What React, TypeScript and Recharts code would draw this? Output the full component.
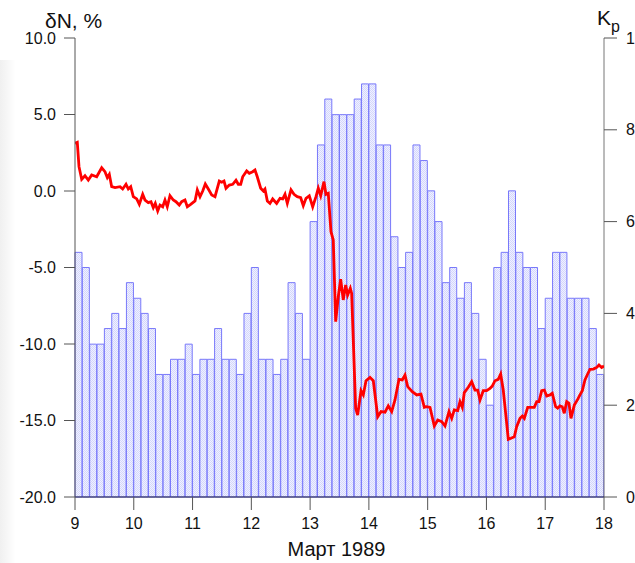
import React from "react";
import { BarChart, Bar, LineChart, Line, XAxis, YAxis } from "recharts";

// Kp index, 3-hour intervals, 9–17 March 1989 (8 per day)
const kpValues = [
  5.33, 5.0, 3.33, 3.33, 3.67, 4.0, 3.67, 4.67,
  4.33, 4.0, 3.67, 2.67, 2.67, 3.0, 3.0, 3.33,
  2.67, 3.0, 3.0, 3.67, 3.0, 3.0, 2.67, 4.0,
  5.0, 3.0, 3.0, 2.67, 3.0, 4.67, 4.0, 3.0,
  6.0, 7.67, 8.67, 8.33, 8.33, 8.33, 8.67, 9.0,
  9.0, 7.67, 7.67, 5.67, 5.0, 5.33, 7.67, 7.33,
  6.67, 6.0, 4.67, 5.0, 4.33, 4.67, 4.0, 3.0,
  2.0, 5.0, 5.33, 6.67, 5.33, 5.0, 5.0, 3.67,
  4.33, 5.33, 5.33, 4.33, 4.33, 4.33, 3.67, 2.67,
];

// Neutron monitor variation δN (%) — time in days of March
const nmTime = [
  9.0, 9.039, 9.068, 9.114, 9.17, 9.226, 9.284, 9.369, 9.454, 9.51, 9.55, 9.584, 9.624, 9.681, 9.766, 9.811, 9.868, 9.907, 9.948, 9.992,
  10.05, 10.094, 10.152, 10.191, 10.247, 10.293, 10.332, 10.366, 10.407, 10.446, 10.492, 10.531, 10.57, 10.616, 10.672, 10.718, 10.774, 10.815, 10.871, 10.911, 10.968,
  11.042, 11.081, 11.127, 11.173, 11.217, 11.268, 11.326, 11.382, 11.455, 11.496, 11.535, 11.569, 11.625, 11.683, 11.739, 11.778, 11.819, 11.853, 11.921, 11.965,
  12.023, 12.062, 12.101, 12.159, 12.203, 12.232, 12.272, 12.317, 12.363, 12.431, 12.488, 12.534, 12.573, 12.612, 12.675, 12.726, 12.782, 12.84, 12.884, 12.93, 12.986,
  13.044, 13.1, 13.139, 13.18, 13.236, 13.27, 13.309, 13.355, 13.394, 13.435, 13.479, 13.52, 13.564, 13.605, 13.639, 13.684, 13.707, 13.775, 13.809, 13.866, 13.905, 13.951,
  14.019, 14.075, 14.15, 14.206, 14.274, 14.33, 14.388, 14.444, 14.512, 14.568, 14.614, 14.66, 14.738, 14.813, 14.886, 14.943, 14.983,
  15.04, 15.113, 15.171, 15.239, 15.295, 15.363, 15.409, 15.453, 15.511, 15.55, 15.589, 15.623, 15.691, 15.749, 15.805, 15.851, 15.89, 15.946,
  16.004, 16.06, 16.099, 16.145, 16.201, 16.242, 16.286, 16.327, 16.372, 16.417, 16.474, 16.514, 16.571, 16.61, 16.644, 16.702, 16.77, 16.814, 16.855, 16.894, 16.94, 16.984,
  17.025, 17.081, 17.12, 17.178, 17.212, 17.251, 17.29, 17.324, 17.365, 17.404, 17.438, 17.495, 17.552, 17.591, 17.631, 17.676, 17.722, 17.761, 17.818, 17.876, 17.915, 17.96, 18.0,
];
const nmDelta = [
  3.12, 3.18, 1.59, 0.76, 1.0, 0.72, 1.05, 0.93, 1.52, 1.26, 0.87, 1.09, 0.28, 0.22, 0.28, 0.13, 0.44, 0.13, 0.28, -0.37,
  -0.52, -0.87, -0.22, -0.59, -0.76, -0.7, -1.09, -0.81, -1.31, -0.92, -1.03, -0.59, -1.03, -0.31, -0.59, -0.7, -0.92, -0.7, -0.59, -1.03, -0.87,
  -0.65, 0.07, -0.37, 0.0, 0.46, 0.13, -0.26, -0.37, 0.65, 0.57, 0.65, 0.18, 0.39, 0.44, 0.7, 0.44, 0.44, 0.93, 1.31, 1.16,
  1.26, 1.37, 0.93, 0.18, 0.0, 0.13, -0.65, -0.81, -0.52, -0.81, -0.48, -0.52, -0.22, -0.81, 0.07, -0.22, -0.37, -0.44, -0.96, -0.48, -0.31,
  -1.03, -0.37, 0.18, -0.31, 0.61, -0.22, -0.15, -2.66, -3.2, -8.54, -6.91, -5.77, -7.12, -6.14, -6.8, -6.36, -6.69, -14.2, -14.64, -13.05, -13.33, -12.4,
  -12.18, -12.4, -14.75, -14.42, -14.46, -14.05, -14.42, -13.66, -12.31, -12.35, -12.03, -12.79, -13.12, -13.33, -13.27, -14.14, -14.1,
  -14.14, -15.36, -14.97, -15.08, -15.36, -14.42, -14.86, -14.31, -14.35, -13.77, -14.14, -13.18, -12.83, -12.46, -13.01, -13.01, -13.66, -13.05,
  -13.05, -12.9, -12.75, -12.4, -12.31, -11.96, -13.01, -14.53, -16.23, -16.16, -16.06, -15.41, -14.86, -14.71, -14.86, -14.14, -14.14, -14.14, -13.77, -13.77, -13.05, -13.01,
  -13.4, -13.33, -13.22, -14.1, -14.2, -14.05, -14.1, -14.53, -13.77, -13.88, -14.86, -13.99, -13.62, -13.33, -13.05, -12.35, -11.96, -11.66, -11.64, -11.53, -11.37, -11.53, -11.44,
];

const dayTicks = [9, 10, 11, 12, 13, 14, 15, 16, 17, 18];
const dnMajorTicks = [-20, -15, -10, -5, 0, 5, 10];
const dnMinorTicks = Array.from({ length: 31 }, (_, i) => i - 20);
const kpMajorTicks = [0, 2, 4, 6, 8, 10];
const kpMinorTicks = [1, 3, 5, 7, 9];

const kpData = kpValues.map((kp, i) => ({ slot: i, kp }));
const nmData = nmTime.map((t, i) => ({ t, dn: nmDelta[i] }));

const W = 635;
const H = 563;
const FONT = "'Liberation Sans', Arial, sans-serif";
const tickStyle = { fontSize: 16, fill: "#111", fontFamily: FONT };

export default function App() {
  return (
    <div style={{ position: "fixed", left: 0, top: 0, width: W, height: H, background: "#fff", overflow: "hidden" }}>
      <div
        style={{
          position: "absolute",
          left: 0,
          top: 60,
          width: 16,
          height: H - 60,
          background: "linear-gradient(to right, rgba(0,0,0,0.06), rgba(0,0,0,0))",
        }}
      />
      <svg width={0} height={0} style={{ position: "absolute" }}>
        <defs>
          <pattern id="kpHatch" width="2" height="2" patternUnits="userSpaceOnUse">
            <rect width="2" height="2" fill="#f0f1ff" />
            <rect width="1" height="1" fill="#d3d6fc" />
            <rect x="1" y="1" width="1" height="1" fill="#d3d6fc" />
          </pattern>
        </defs>
      </svg>
      <div style={{ position: "absolute", left: 0, top: 0 }}>
        <BarChart
          width={W}
          height={H}
          data={kpData}
          margin={{ top: 38, right: 1, bottom: 66, left: 15 }}
          barCategoryGap={0}
          barGap={0}
        >
          <XAxis dataKey="slot" hide />
          <YAxis
            yAxisId="minorL"
            orientation="left"
            width={60}
            type="number"
            domain={[-20, 10]}
            ticks={dnMinorTicks}
            interval={0}
            tick={false}
            tickSize={5}
            axisLine={false}
            tickLine={{ stroke: "#555" }}
          />
          <YAxis
            yAxisId="kp"
            orientation="right"
            width={30}
            type="number"
            domain={[0, 10]}
            ticks={kpMajorTicks}
            interval={0}
            tickSize={13}
            tickMargin={9}
            tick={tickStyle}
            axisLine={{ stroke: "#777" }}
            tickLine={{ stroke: "#555" }}
          />
          <Bar
            yAxisId="kp"
            dataKey="kp"
            fill="url(#kpHatch)"
            stroke="#7878fa"
            strokeWidth={1}
            isAnimationActive={false}
          />
        </BarChart>
      </div>
      <div style={{ position: "absolute", left: 0, top: 0 }}>
        <LineChart width={W} height={H} data={nmData} margin={{ top: 38, right: 1, bottom: 26, left: 15 }}>
          <XAxis
            dataKey="t"
            type="number"
            domain={[9, 18]}
            ticks={dayTicks}
            interval={0}
            allowDataOverflow
            height={40}
            tickSize={13}
            tickMargin={8}
            tick={tickStyle}
            axisLine={{ stroke: "#1c1c3c" }}
            tickLine={{ stroke: "#555" }}
          />
          <YAxis
            yAxisId="dn"
            orientation="left"
            width={60}
            type="number"
            domain={[-20, 10]}
            ticks={dnMajorTicks}
            interval={0}
            tickFormatter={(v: number) => v.toFixed(1)}
            tickSize={11}
            tickMargin={8}
            tick={tickStyle}
            axisLine={{ stroke: "#555" }}
            tickLine={{ stroke: "#555" }}
          />
          <YAxis
            yAxisId="kpm"
            orientation="right"
            width={30}
            type="number"
            domain={[0, 10]}
            ticks={kpMinorTicks}
            interval={0}
            tick={false}
            tickSize={9}
            axisLine={false}
            tickLine={{ stroke: "#555" }}
          />
          <Line
            yAxisId="dn"
            dataKey="dn"
            type="linear"
            stroke="#ff0000"
            strokeWidth={2.8}
            dot={false}
            isAnimationActive={false}
          />
        </LineChart>
      </div>
      <svg width={W} height={H} style={{ position: "absolute", left: 0, top: 0, pointerEvents: "none" }}>
        <text x={45} y={28} fontSize={21} fontFamily={FONT} fill="#111">
          δN, %
        </text>
        <text x={597} y={25} fontSize={21} fontFamily={FONT} fill="#111">
          K
        </text>
        <text x={611} y={32} fontSize={16} fontFamily={FONT} fill="#111">
          p
        </text>
        <text x={336.5} y={556} fontSize={20} fontFamily={FONT} fill="#111" textAnchor="middle">
          Март 1989
        </text>
      </svg>
    </div>
  );
}
